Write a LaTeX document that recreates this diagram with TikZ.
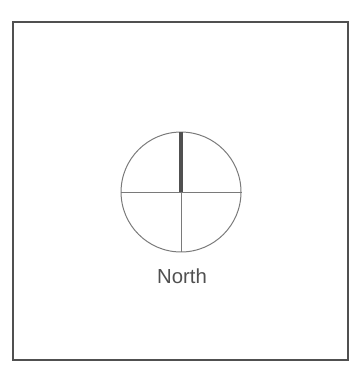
\documentclass[tikz,border=0pt]{standalone}
\usepackage{fontspec}
\setmainfont{Liberation Sans}
\usepackage{xcolor}
\usepackage{tikz}

\definecolor{inkgray}{HTML}{505050}
\definecolor{linegray}{HTML}{7A7A7A}

\begin{document}
\begin{tikzpicture}[scale=1.0]
    \useasboundingbox (0,0) rectangle (6.368,6.844);
    \tikzset{needle/.style={draw=inkgray,line width=2pt},
             hair/.style={draw=linegray,line width=0.5pt}}

    % outer frame
    \node[draw=inkgray,line width=0.7pt,minimum width=5.909cm,minimum height=5.962cm,inner sep=0pt] (frame) at (3.183,3.475) {};

    % compass
    \node[circle,draw=linegray,line width=0.5pt,minimum size=2.116cm,inner sep=0pt] (dial) at (3.193,3.457) {};
    \draw[hair] (dial.west)--(dial.east);
    \draw[hair] (dial.center)--(dial.south);
    \draw[needle] (dial.north)--(dial.center);

    \node[text=inkgray,font=\fontsize{10.2}{12}\selectfont] (lbl) at (3.21,1.976) {North};
\end{tikzpicture}
\end{document}
